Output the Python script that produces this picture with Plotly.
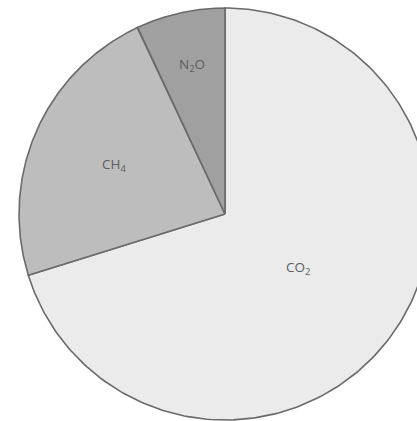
import numpy as np
import plotly.graph_objects as go

# Share of greenhouse gas emissions (%)
gases = ["CO<sub>2</sub>", "CH<sub>4</sub>", "N<sub>2</sub>O"]
shares = [70.2, 22.8, 7.0]
fills = ["#ebebeb", "#bdbdbd", "#a0a0a0"]
label_radius = [0.44, 0.59, 0.74]   # label distance as a fraction of the radius

W, H = 417, 421
cx, cy, R = 225, 214, 206

fig = go.Figure()

total = sum(shares)
start = 0.0
for name, val, col, lr in zip(gases, shares, fills, label_radius):
    sweep = 360.0 * val / total
    ang = np.radians(np.linspace(start, start + sweep, 240))
    xs = np.concatenate([[cx], cx + R * np.sin(ang), [cx]])
    ys = np.concatenate([[cy], cy - R * np.cos(ang), [cy]])
    fig.add_trace(go.Scatter(
        x=xs, y=ys, mode="lines", fill="toself", fillcolor=col,
        line=dict(color="#6a6a6a", width=1.6), hoverinfo="skip", showlegend=False,
    ))
    mid = np.radians(start + sweep / 2)
    fig.add_annotation(
        x=cx + lr * R * np.sin(mid), y=cy - lr * R * np.cos(mid),
        text=name, showarrow=False,
        font=dict(family="Open Sans, sans-serif", size=13.5, color="#5e5e5e"),
    )
    start += sweep

fig.update_xaxes(range=[0, W], visible=False, fixedrange=True)
fig.update_yaxes(range=[H, 0], visible=False, fixedrange=True)
fig.update_layout(
    width=W, height=H, margin=dict(l=0, r=0, t=0, b=0),
    paper_bgcolor="white", plot_bgcolor="white",
)
fig.write_html("out.html")
